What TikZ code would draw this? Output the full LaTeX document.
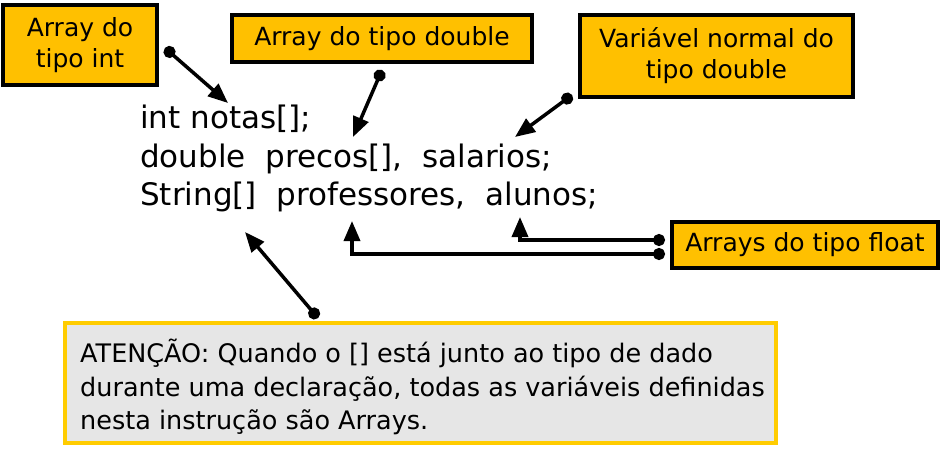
\documentclass[tikz,border=0pt]{standalone}
\usepackage{fontspec}
\setmainfont{DejaVu Sans}
\usepackage{tikz}
\usetikzlibrary{arrows.meta}
\definecolor{Gold}{RGB}{255,192,0}
\definecolor{Frame}{RGB}{255,204,0}
\definecolor{Note}{RGB}{230,230,230}

\tikzset{
  tag/.style={draw=black, line width=3.5pt, fill=Gold, align=center, inner sep=0pt,
    font=\fontsize{25}{31}\selectfont},
  codeline/.style={anchor=base west, inner sep=0pt, font=\fontsize{31}{38}\selectfont},
  pointer/.style={line width=3.5pt, {Circle[length=12pt]}-{Triangle[length=20pt,width=16pt]}},
}

\begin{document}
\begin{tikzpicture}[x=1pt, y=-1pt]
    \useasboundingbox (0,0) rectangle (946,448);

    \node[tag, minimum width=154, minimum height=80] (tag_int) at (80, 45) {Array do\\tipo int};
    \node[tag, minimum width=300, minimum height=47] (tag_dbl) at (382, 38.5) {Array do tipo double};
    \node[tag, minimum width=273, minimum height=82] (tag_var) at (716.5, 56) {Variável normal do\\tipo double};
    \node[tag, minimum width=266, minimum height=46] (tag_flt) at (805, 245) {Arrays do tipo float};

    \node[draw=Frame, line width=3.5pt, fill=Note, minimum width=711, minimum height=120, inner sep=0pt] (note) at (420.5, 383) {};
    \node[anchor=north west, align=left, inner sep=0pt, font=\fontsize{25.5}{33.5}\selectfont] (note_txt) at (80, 339)
      {ATENÇÃO: Quando o [] está junto ao tipo de dado\\durante uma declaração, todas as variáveis definidas\\nesta instrução são Arrays.};

    \node[codeline] (line_int) at (140, 128) {int notas[];};
    \node[codeline] (line_dbl) at (140, 167) {double~~precos[],~~salarios;};
    \node[codeline] (line_str) at (140, 205) {String[]~~professores,~~alunos;};

    % pontos de saida
    \coordinate (p_int) at (165, 48);
    \coordinate (p_dbl) at (382, 70);
    \coordinate (p_var) at (572, 95);
    \coordinate (p_flt_a) at (665, 240);
    \coordinate (p_flt_b) at (665, 254);
    \coordinate (p_note) at (318, 318);

    % alvos no codigo
    \coordinate (t_notas) at (228, 103);
    \coordinate (t_precos) at (353, 137);
    \coordinate (t_salarios) at (515, 137);
    \coordinate (t_alunos) at (520, 217);
    \coordinate (t_prof) at (352, 221);
    \coordinate (t_string) at (245, 232);

    \draw[pointer] (p_int) -- (t_notas);
    \draw[pointer] (p_dbl) -- (t_precos);
    \draw[pointer] (p_var) -- (t_salarios);
    \draw[pointer] (p_flt_a) -| (t_alunos);
    \draw[pointer] (p_flt_b) -| (t_prof);
    \draw[pointer] (p_note) -- (t_string);
\end{tikzpicture}
\end{document}
